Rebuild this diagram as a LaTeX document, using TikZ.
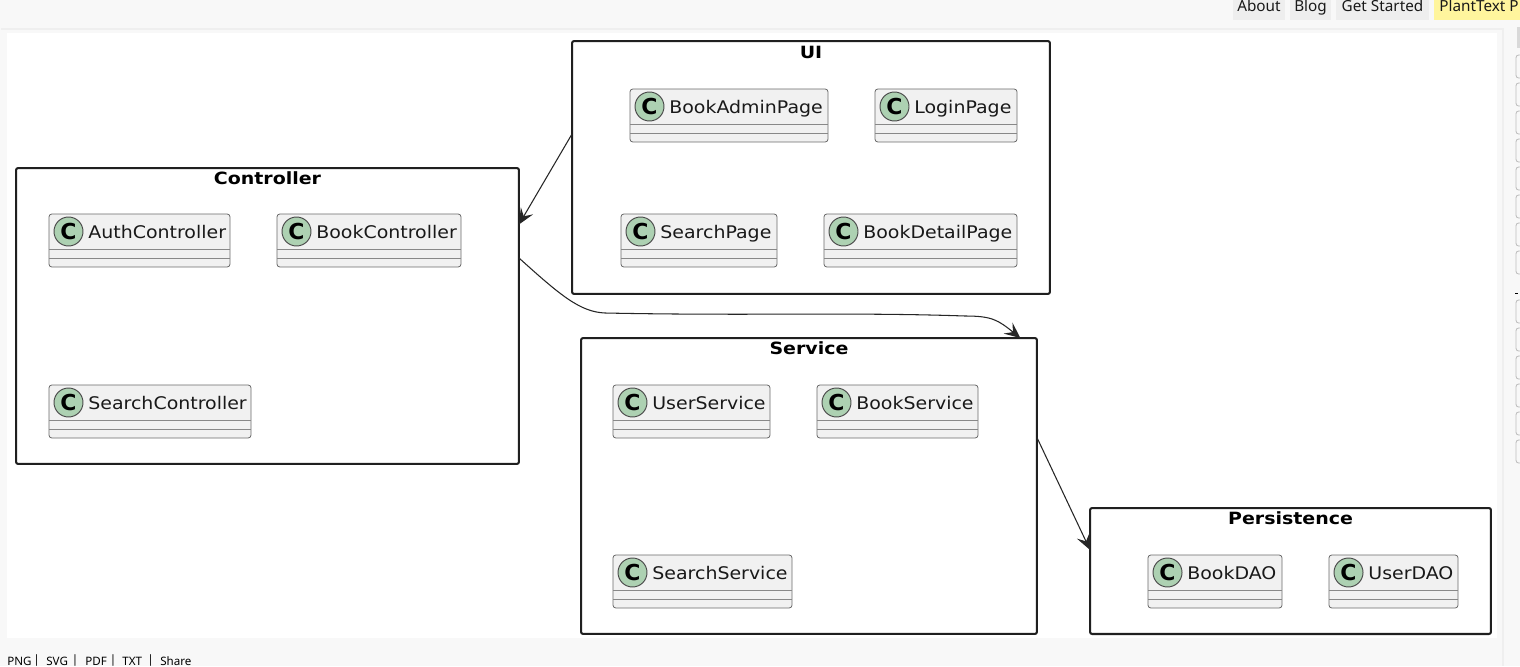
\documentclass[tikz,border=0pt]{standalone}
\usepackage{fontspec}
\setmainfont{DejaVu Sans}
\newfontfamily\pagefont{Noto Sans}
\newfontfamily\classfont[FakeStretch=1.09]{DejaVu Sans}
\newfontfamily\titlefont[FakeStretch=1.125]{DejaVu Sans}
\usetikzlibrary{arrows.meta}
\definecolor{pagebg}{HTML}{F8F8F8}
\definecolor{panelline}{HTML}{EFEFEF}
\definecolor{tabgrey}{HTML}{EEEEEE}
\definecolor{tabyellow}{HTML}{FFF59D}
\definecolor{classfill}{HTML}{F1F1F1}
\definecolor{classline}{HTML}{6A6A6A}
\definecolor{spotfill}{HTML}{ADD1B2}
\tikzset{
  package/.style={draw=black!88, line width=1.15pt, rounded corners=1.2pt, outer sep=0pt, inner sep=0pt},
  packagetitle/.style={font=\titlefont\bfseries\fontsize{9.6}{11}\selectfont, inner sep=0pt, anchor=base},
  classbox/.style={draw=classline, fill=classfill, line width=.45pt, rounded corners=1.6pt, inner sep=0pt, outer sep=0pt, minimum height=1.06cm},
  classrule/.style={draw=classline!80, line width=.45pt},
  classspot/.style={circle, draw=black!70, fill=spotfill, line width=.55pt, minimum size=.58cm, inner sep=0pt, font=\bfseries\fontsize{12.5}{12.5}\selectfont},
  classname/.style={font=\classfont\fontsize{9.9}{11}\selectfont, text=black!90, inner sep=0pt, anchor=base west},
  tab/.style={font=\pagefont\fontsize{8.7}{10}\selectfont, text=black!90, inner sep=0pt, anchor=base},
  weblink/.style={font=\pagefont\fontsize{6.6}{8}\selectfont, text=black, inner sep=0pt, anchor=base west},
  dep/.style={-{Stealth[length=9pt, width=8pt, inset=3.6pt]}, line width=.6pt, draw=black!85},
}
% box left, width and top are in pixels of the reference
\newcommand{\classnode}[5]{
  \node (#1)[classbox, minimum width=#3*0.02cm] at (#2+#3/2, #4+26.5) {};
  \node (#1spot)[classspot] at (#2+19.5, #4+17.5) {C};
  \node (#1name)[classname] at (#2+39, #4+24) {#5};
  \draw[classrule] ([yshift=-.7cm]#1.north west) -- ([yshift=-.7cm]#1.north east);
  \draw[classrule] ([yshift=-.88cm]#1.north west) -- ([yshift=-.88cm]#1.north east);
}
\begin{document}
\begin{tikzpicture}[x=0.02cm, y=-0.02cm]
\useasboundingbox (0, 0) rectangle (1520, 666);
\clip (0, 0) rectangle (1520, 666);
\fill[pagebg] (0, 0) rectangle (1520, 666);
% web page around the diagram
\draw[panelline, line width=.6pt] (1, 29) -- (1503, 29) -- (1503, 666);
\fill[white] (7, 33) rectangle (1497, 638);
\fill[tabgrey] (1233, 0) rectangle (1285, 20);
\fill[tabgrey] (1290, 0) rectangle (1331, 20);
\fill[tabgrey] (1336, 0) rectangle (1429, 20);
\fill[tabyellow] (1434, 0) rectangle (1520, 20);
\node (about)[tab] at (1259, 11) {About};
\node (blog)[tab] at (1310.5, 11) {Blog};
\node (started)[tab] at (1382.5, 11) {Get Started};
\node (planttext)[tab, anchor=base west] at (1439, 11) {PlantText P};
\fill[black!15] (1517, 27) rectangle (1530, 48);
\foreach \y in {55, 83, 111, 139, 167, 195, 223, 251, 300, 328, 356, 384, 412, 440}
  \draw[black!25, line width=.5pt, rounded corners=1.5pt] (1516, \y) rectangle (1530, \y+23);
\draw[black, line width=.5pt] (1515, 293) -- (1518, 293);
\node (png)[weblink] at (7, 665) {PNG};
\node (sep1)[weblink] at (33, 663) {|};
\node (svg)[weblink] at (46, 665) {SVG};
\node (sep2)[weblink] at (71.5, 663) {|};
\node (pdf)[weblink] at (85, 665) {PDF};
\node (sep3)[weblink] at (109.5, 663) {|};
\node (txt)[weblink] at (122, 665) {TXT};
\node (sep4)[weblink] at (147, 663) {|};
\node (share)[weblink] at (160, 665) {Share};
% packages
\node (ui)[package, minimum width=9.56cm, minimum height=5.06cm] at (811, 167.5) {};
\node (controller)[package, minimum width=10.06cm, minimum height=5.92cm] at (267.5, 316) {};
\node (service)[package, minimum width=9.12cm, minimum height=5.92cm] at (809, 486) {};
\node (persistence)[package, minimum width=8.02cm, minimum height=2.52cm] at (1290.5, 571) {};
\node (uititle)[packagetitle] at (811, 58) {UI};
\node (controllertitle)[packagetitle] at (267.5, 184) {Controller};
\node (servicetitle)[packagetitle] at (809, 354) {Service};
\node (persistencetitle)[packagetitle] at (1290.5, 524) {Persistence};
% classes
\classnode{bookadminpage}{630}{198}{89}{BookAdminPage}
\classnode{loginpage}{875}{142}{89}{LoginPage}
\classnode{searchpage}{621}{156}{214}{SearchPage}
\classnode{bookdetailpage}{824}{193}{214}{BookDetailPage}
\classnode{authcontroller}{49}{181}{214}{AuthController}
\classnode{bookcontroller}{277}{184}{214}{BookController}
\classnode{searchcontroller}{49}{202}{385}{SearchController}
\classnode{userservice}{613}{157}{385}{UserService}
\classnode{bookservice}{817}{161}{385}{BookService}
\classnode{searchservice}{613}{179}{555}{SearchService}
\classnode{bookdao}{1148}{134}{555}{BookDAO}
\classnode{userdao}{1329}{129}{555}{UserDAO}
% dependencies
\draw[dep] (ui.172.3) -- (controller.20.5);
\draw[dep] (controller.13.6) .. controls (560, 295) and (580, 312) .. (605, 313) .. controls (750, 316) and (850, 312) .. (965, 316) .. controls (992, 316) and (998, 320) .. (service.35.8);
\draw[dep] (service.12.1) -- (persistence.174.6);
\end{tikzpicture}
\end{document}
